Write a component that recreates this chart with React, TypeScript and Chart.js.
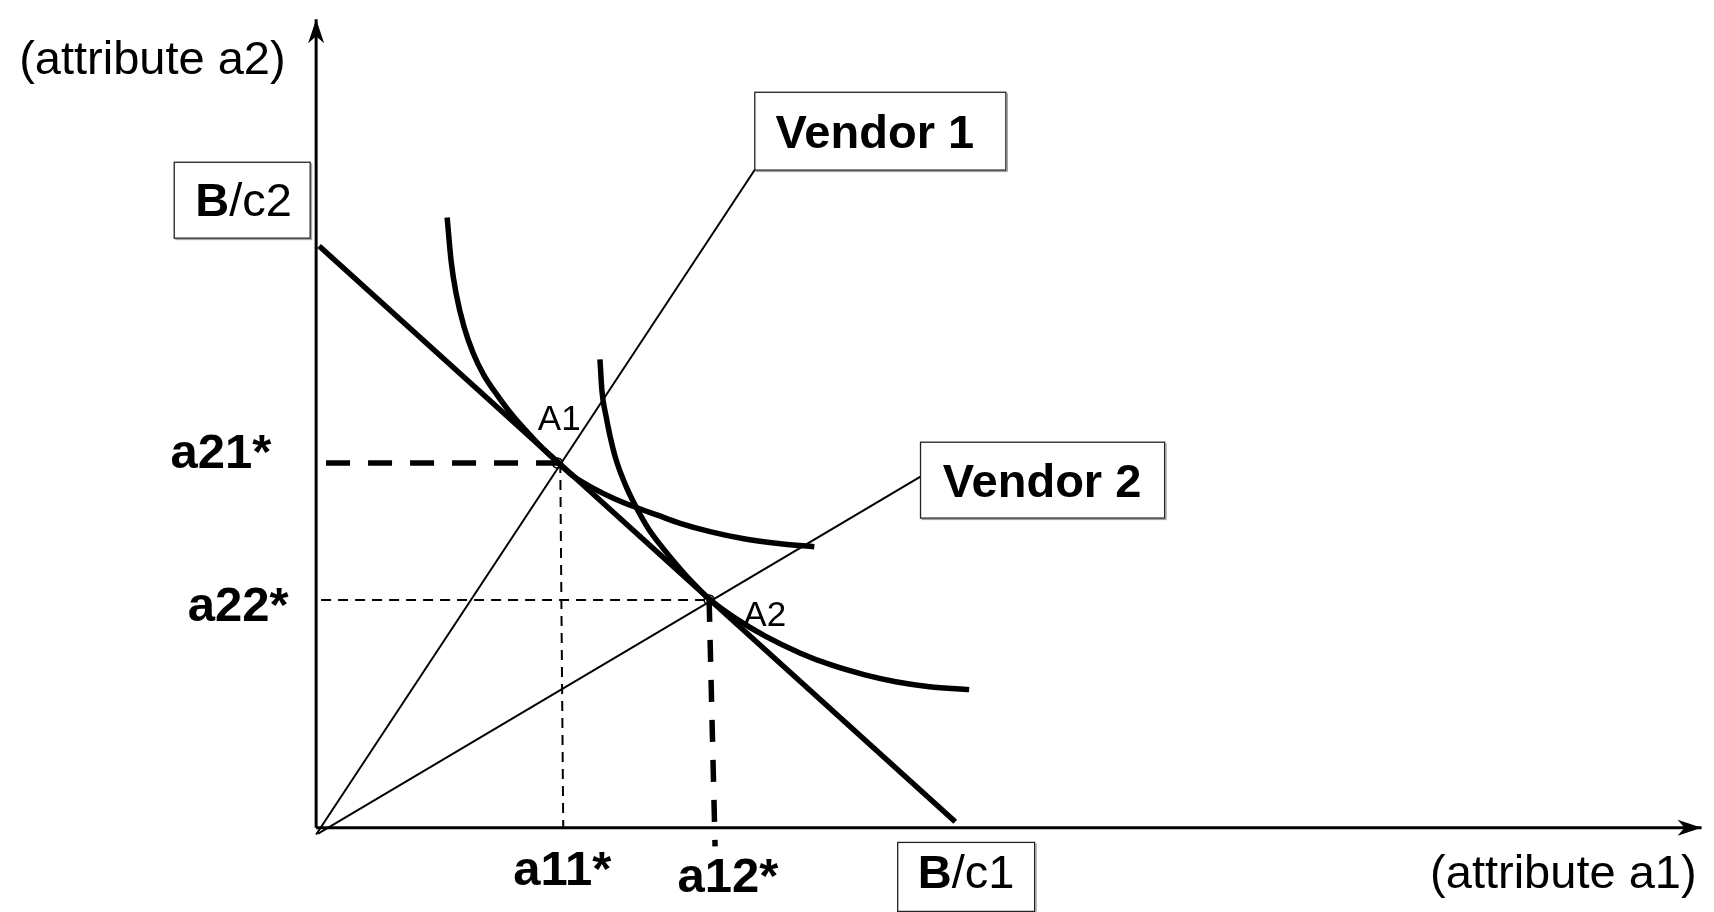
import React, { useEffect, useRef } from "react";
import { Chart, registerables } from "chart.js";

Chart.register(...registerables);

const W = 1714;
const H = 912;
const X_MIN = -312;
const X_MAX = 1402;
const Y_MIN = -79;
const Y_MAX = 833;

// axes
const axisXX = [0, 1396];
const axisXY = [0, 0];
const axisYX = [0, 0];
const axisYY = [0, 820];
// budget line
const budgetX = [3, 644];
const budgetY = [590, 6];
// vendor rays
const vendor1X = [0, 447];
const vendor1Y = [-7, 675];
const vendor2X = [2, 609];
const vendor2Y = [-6, 356];
// indifference curves
const curve1X = [132, 136, 141, 149, 158, 169, 183, 198, 213, 228, 243, 260, 278, 300, 322, 344, 366, 398, 431, 468, 502];
const curve1Y = [619, 575, 542, 508, 482, 459, 438, 418, 401, 385, 371, 356, 345, 334, 325, 317, 309, 300, 293, 288, 285];
const curve2X = [286, 288, 292, 296, 302, 312, 322, 335, 349, 363, 378, 396, 423, 453, 488, 519, 553, 584, 618, 658];
const curve2Y = [475, 443, 418, 398, 374, 347, 326, 303, 284, 267, 250, 232, 212, 194, 177, 165, 155, 148, 143, 140];
// guide lines
const a21X = [10, 243];
const a21Y = [370, 370];
const a11X = [246, 249];
const a11Y = [370, 0];
const a22X = [5, 396];
const a22Y = [231, 231];
const a12X = [396, 402];
const a12Y = [231, -19];
// optimum points A1, A2
const optimaX = [243, 396];
const optimaY = [370, 231];

// labels: text parts, anchor (data units, baseline), alignment
const labelTexts = [
  [["(attribute a2)", false]],
  [["B", true], ["/c2", false]],
  [["Vendor 1", true]],
  [["Vendor 2", true]],
  [["a21*", true]],
  [["a22*", true]],
  [["a11*", true]],
  [["a12*", true]],
  [["B", true], ["/c1", false]],
  [["(attribute a1)", false]],
  [["A1", false]],
  [["A2", false]],
] as [string, boolean][][];
const labelX = [-165, -73, 563, 731.5, -96, -78.5, 248, 415, 655, 1391, 245, 452];
const labelY = [765, 620, 689, 335, 365, 210, -58, -65, -61, -61, 403, 205];
const labelAlign = ["center", "center", "center", "center", "center", "center", "center", "center", "center", "right", "center", "center"];
const labelSize = [47, 47, 47, 47, 49, 49, 49, 49, 47, 47, 35, 35];

// boxes: x0, x1, y0, y1 (data units)
const boxX0 = [-143, 442, 609, 586];
const boxX1 = [-6, 695, 855, 724];
const boxY0 = [675, 746, 391, -15];
const boxY1 = [598, 667, 314, -85];

const zip = (xs: number[], ys: number[]) => xs.map((x, i) => ({ x, y: ys[i] }));
const FONT = '"Liberation Sans", Arial, Helvetica, sans-serif';

function drawArrow(ctx: CanvasRenderingContext2D, x0: number, y0: number, x1: number, y1: number) {
  const ang = Math.atan2(y1 - y0, x1 - x0);
  const len = 24;
  const half = 8;
  const notch = 7;
  ctx.save();
  ctx.translate(x1, y1);
  ctx.rotate(ang);
  ctx.beginPath();
  ctx.moveTo(0, 0);
  ctx.lineTo(-len, -half);
  ctx.lineTo(-len + notch, 0);
  ctx.lineTo(-len, half);
  ctx.closePath();
  ctx.fillStyle = "#000";
  ctx.fill();
  ctx.restore();
}

const overlay = {
  id: "overlay",
  afterDatasetsDraw(chart: any) {
    const ctx: CanvasRenderingContext2D = chart.ctx;
    const xs = chart.scales.x;
    const ys = chart.scales.y;
    const px = (v: number) => xs.getPixelForValue(v);
    const py = (v: number) => ys.getPixelForValue(v);

    drawArrow(ctx, px(axisXX[0]), py(axisXY[0]), px(axisXX[1]), py(axisXY[1]));
    drawArrow(ctx, px(axisYX[0]), py(axisYY[0]), px(axisYX[1]), py(axisYY[1]));

    ctx.save();
    for (let i = 0; i < boxX0.length; i++) {
      const x0 = px(boxX0[i]);
      const x1 = px(boxX1[i]);
      const y0 = py(boxY0[i]);
      const y1 = py(boxY1[i]);
      ctx.fillStyle = "#fff";
      ctx.fillRect(x0, y0, x1 - x0, y1 - y0);
      ctx.strokeStyle = "#999";
      ctx.lineWidth = 1;
      ctx.beginPath();
      ctx.moveTo(x1 + 1.5, y0 + 1);
      ctx.lineTo(x1 + 1.5, y1 + 1.5);
      ctx.lineTo(x0 + 1, y1 + 1.5);
      ctx.stroke();
      ctx.strokeStyle = "#222";
      ctx.lineWidth = 1.3;
      ctx.strokeRect(x0, y0, x1 - x0, y1 - y0);
    }
    ctx.restore();

    ctx.save();
    ctx.fillStyle = "#000";
    ctx.textBaseline = "alphabetic";
    ctx.textAlign = "left";
    for (let i = 0; i < labelTexts.length; i++) {
      const parts = labelTexts[i];
      const size = labelSize[i];
      let total = 0;
      const widths = parts.map(([t, b]) => {
        ctx.font = `${b ? "bold " : ""}${size}px ${FONT}`;
        const w = ctx.measureText(t).width;
        total += w;
        return w;
      });
      const ax = px(labelX[i]);
      const ay = py(labelY[i]);
      let start = ax - total / 2;
      if (labelAlign[i] === "right") start = ax - total;
      if (labelAlign[i] === "left") start = ax;
      parts.forEach(([t, b], k) => {
        ctx.font = `${b ? "bold " : ""}${size}px ${FONT}`;
        ctx.fillText(t, start, ay);
        start += widths[k];
      });
    }
    ctx.restore();
  },
};

export default function App() {
  const ref = useRef<HTMLCanvasElement | null>(null);
  useEffect(() => {
    if (!ref.current) return;
    const line = (data: any, width: number, dash: number[] = [], extra: any = {}) => ({
      data,
      showLine: true,
      borderColor: "#000",
      backgroundColor: "#000",
      borderWidth: width,
      borderDash: dash,
      pointRadius: 0,
      pointHoverRadius: 0,
      fill: false,
      tension: 0,
      borderCapStyle: "butt",
      ...extra,
    });
    const chart = new Chart(ref.current, {
      type: "scatter",
      data: {
        datasets: [
          line(zip(axisXX, axisXY), 3),
          line(zip(axisYX, axisYY), 3),
          line(zip(vendor1X, vendor1Y), 2),
          line(zip(vendor2X, vendor2Y), 2),
          line(zip(a11X, a11Y), 2, [10, 7]),
          line(zip(a22X, a22Y), 2, [10, 7]),
          line(zip(a21X, a21Y), 5.5, [24, 18]),
          line(zip(a12X, a12Y), 5.5, [22, 18]),
          line(zip(budgetX, budgetY), 5.5),
          line(zip(curve1X, curve1Y), 5.5, [], { cubicInterpolationMode: "monotone" }),
          line(zip(curve2X, curve2Y), 5.5, [], { cubicInterpolationMode: "monotone" }),
          {
            data: zip(optimaX, optimaY),
            showLine: false,
            pointRadius: 5,
            pointHoverRadius: 5,
            pointStyle: "circle",
            borderColor: "#000",
            backgroundColor: "rgba(0,0,0,0)",
            borderWidth: 1.5,
          },
        ] as any,
      },
      options: {
        animation: false,
        responsive: false,
        maintainAspectRatio: false,
        layout: { padding: 0 },
        events: [],
        plugins: { legend: { display: false }, tooltip: { enabled: false } },
        scales: {
          x: { type: "linear", display: false, min: X_MIN, max: X_MAX },
          y: { type: "linear", display: false, min: Y_MIN, max: Y_MAX },
        },
      } as any,
      plugins: [overlay],
    });
    return () => chart.destroy();
  }, []);
  return (
    <div style={{ position: "fixed", left: 0, top: 0, width: W, height: H, background: "#fff" }}>
      <canvas ref={ref} width={W} height={H} style={{ display: "block", width: W, height: H }} />
    </div>
  );
}
